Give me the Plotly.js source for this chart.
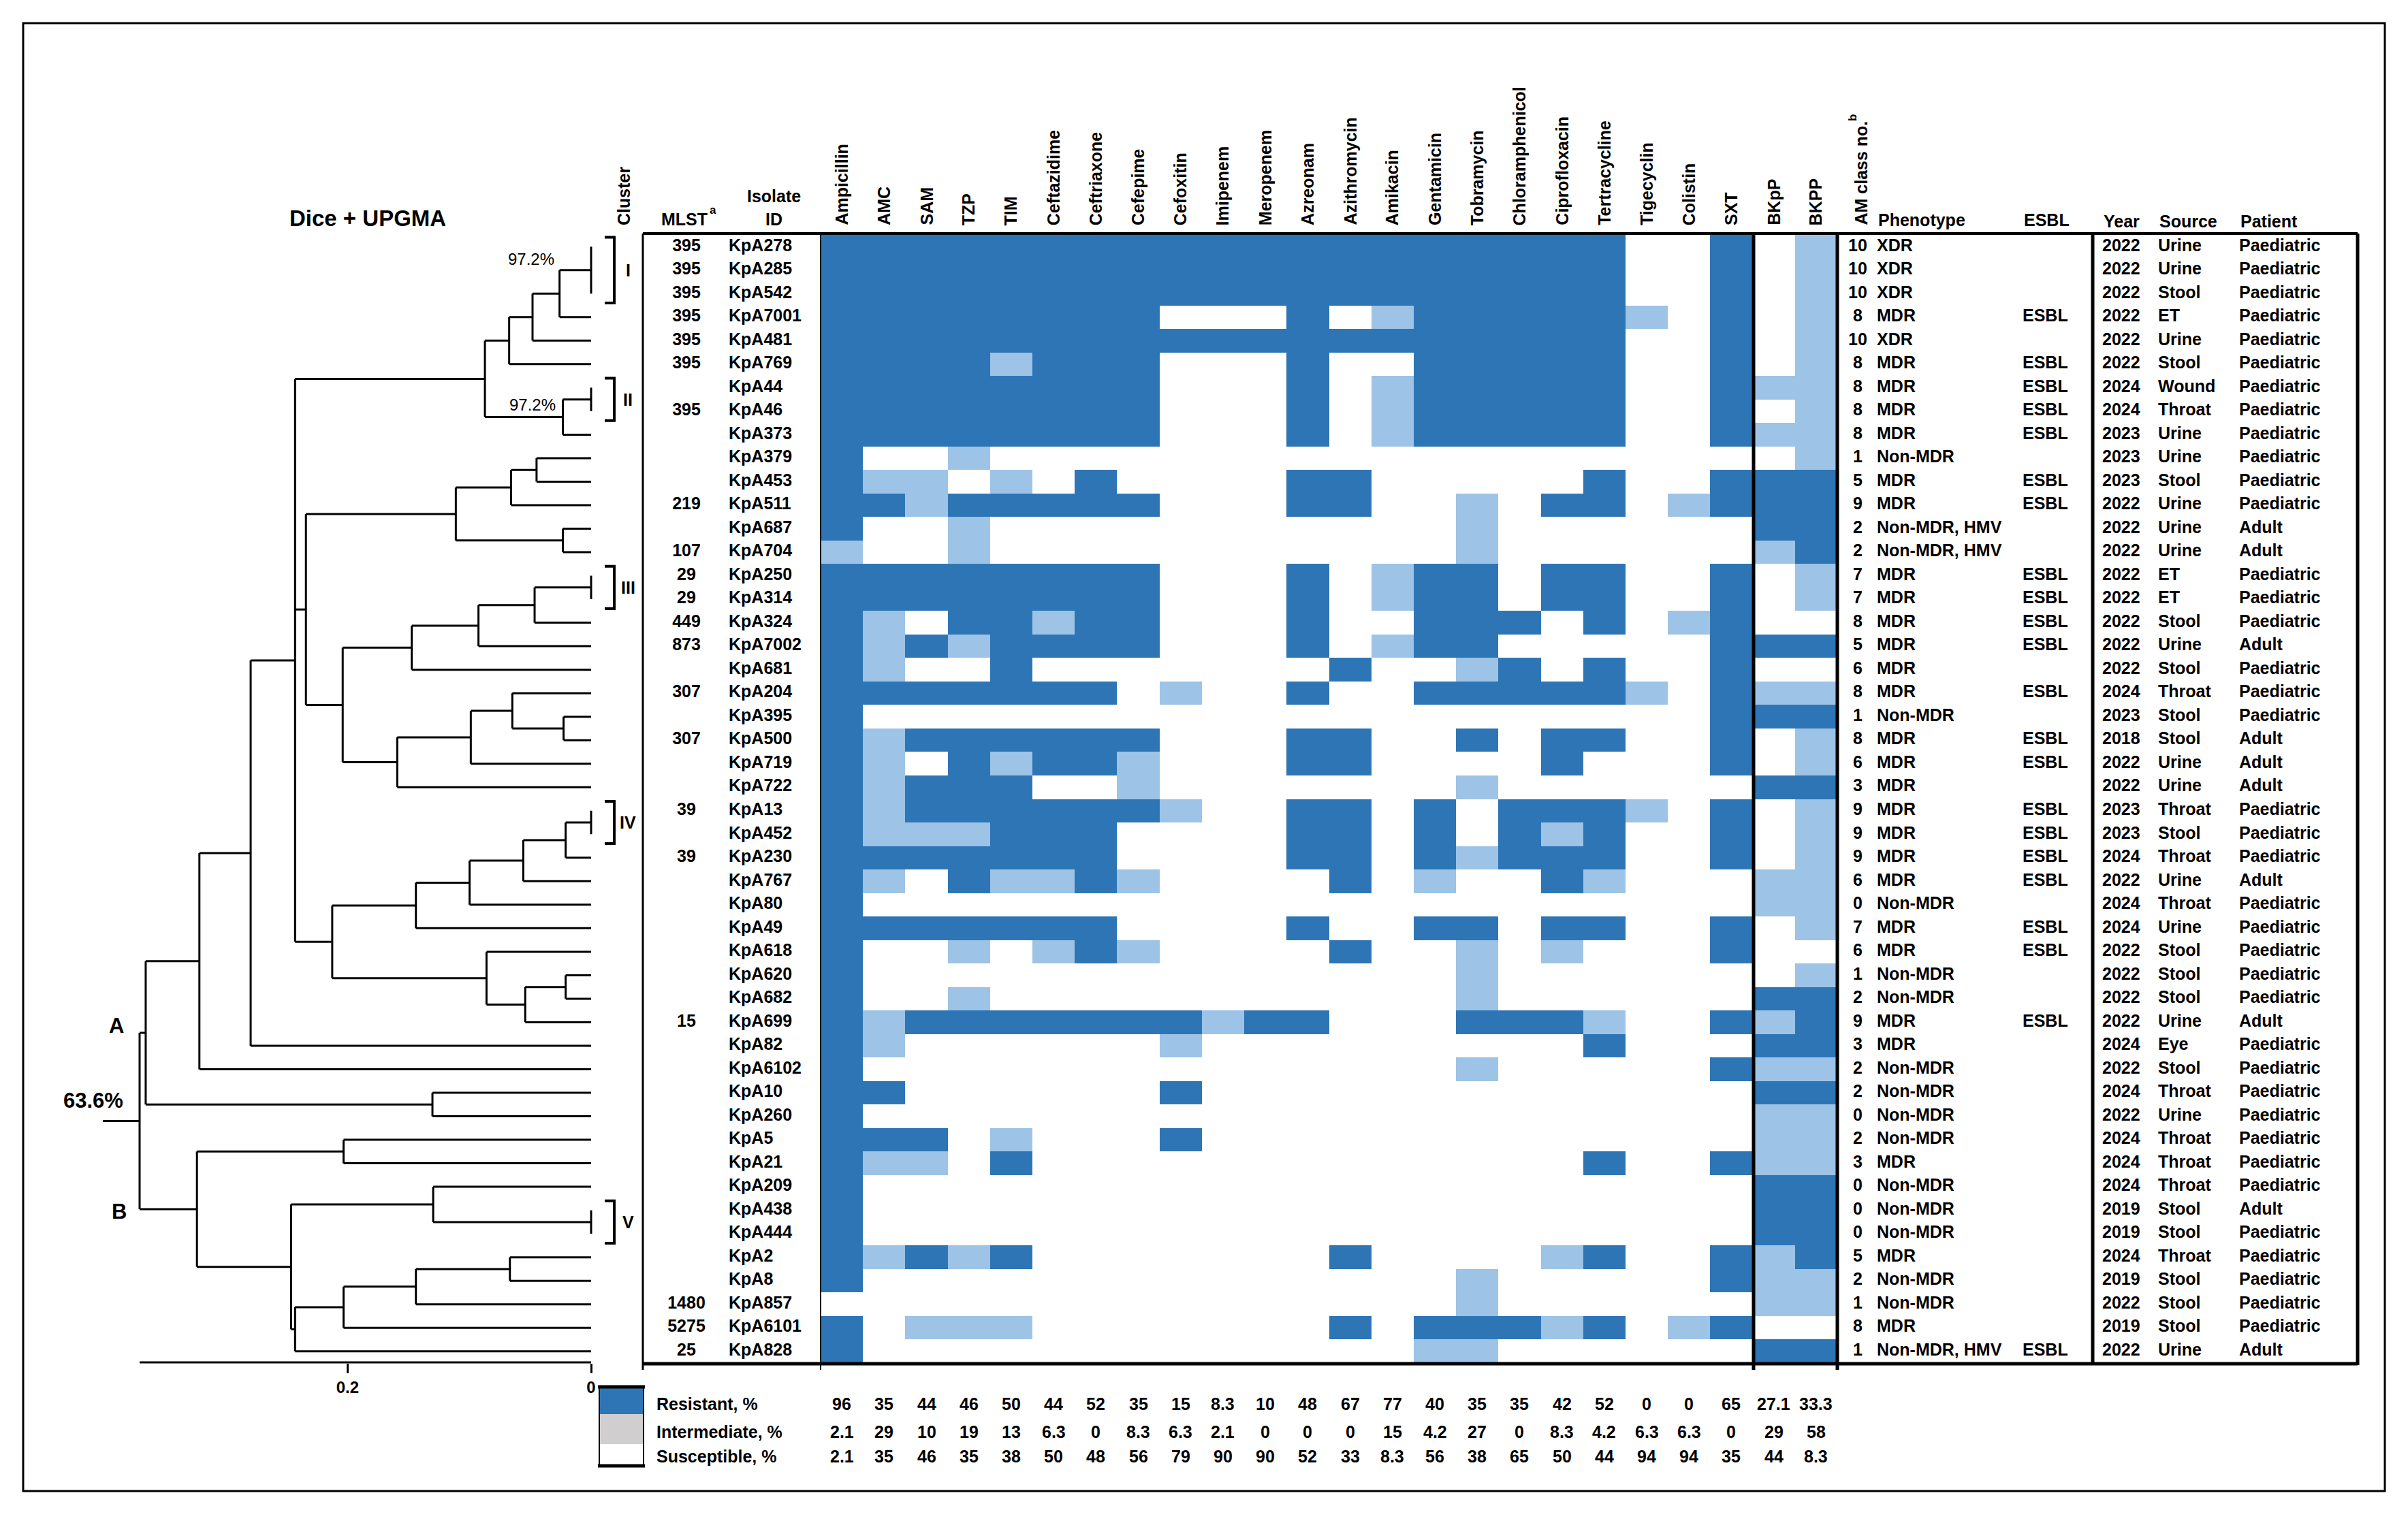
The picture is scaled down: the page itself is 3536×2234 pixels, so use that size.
<!DOCTYPE html>
<html><head><meta charset="utf-8">
<script src="https://cdn.plot.ly/plotly-3.0.1.min.js"></script>
<style>html,body{margin:0;padding:0;background:#fff}</style>
</head><body>
<div id="chart" style="width:3536px;height:2234px"></div>
<script>
// ---------------- DATA ----------------
const antibiotics = ['Ampicillin','AMC','SAM','TZP','TIM','Ceftazidime','Ceftriaxone','Cefepime','Cefoxitin','Imipenem','Meropenem','Azreonam','Azithromycin','Amikacin','Gentamicin','Tobramycin','Chloramphenicol','Ciprofloxacin','Tertracycline','Tigecyclin','Colistin','SXT','BKpP','BKPP'];

const isolates = ['KpA278','KpA285','KpA542','KpA7001','KpA481','KpA769','KpA44','KpA46','KpA373','KpA379',
  'KpA453','KpA511','KpA687','KpA704','KpA250','KpA314','KpA324','KpA7002','KpA681','KpA204',
  'KpA395','KpA500','KpA719','KpA722','KpA13','KpA452','KpA230','KpA767','KpA80','KpA49',
  'KpA618','KpA620','KpA682','KpA699','KpA82','KpA6102','KpA10','KpA260','KpA5','KpA21',
  'KpA209','KpA438','KpA444','KpA2','KpA8','KpA857','KpA6101','KpA828'];

const mlst = ['395','395','395','395','395','395','','395','','',
  '','219','','107','29','29','449','873','','307',
  '','307','','','39','','39','','','',
  '','','','15','','','','','','',
  '','','','','','1480','5275','25'];

// R = resistant, I = intermediate, S = susceptible (24 columns, grouped by 4)
const profiles = [
  'RRRR RRRR RRRR RRRR RRRS SRSI',
  'RRRR RRRR RRRR RRRR RRRS SRSI',
  'RRRR RRRR RRRR RRRR RRRS SRSI',
  'RRRR RRRR SSSR SIRR RRRI SRSI',
  'RRRR RRRR RRRR RRRR RRRS SRSI',
  'RRRR IRRR SSSR SSRR RRRS SRSI',
  'RRRR RRRR SSSR SIRR RRRS SRII',
  'RRRR RRRR SSSR SIRR RRRS SRSI',
  'RRRR RRRR SSSR SIRR RRRS SRII',
  'RSSI SSSS SSSS SSSS SSSS SSSI',
  'RIIS ISRS SSSR RSSS SSRS SRRR',
  'RRIR RRRR SSSR RSSI SRRS IRRR',
  'RSSI SSSS SSSS SSSI SSSS SSRR',
  'ISSI SSSS SSSS SSSI SSSS SSIR',
  'RRRR RRRR SSSR SIRR SRRS SRSI',
  'RRRR RRRR SSSR SIRR SRRS SRSI',
  'RISR RIRR SSSR SSRR RSRS IRSS',
  'RIRI RRRR SSSR SIRR SSSS SRRR',
  'RISS RSSS SSSS RSSI RSRS SRSS',
  'RRRR RRRS ISSR SSRR RRRI SRII',
  'RSSS SSSS SSSS SSSS SSSS SRRR',
  'RIRR RRRR SSSR RSSR SRRS SRSI',
  'RISR IRRI SSSR RSSS SRSS SRSI',
  'RIRR RSSI SSSS SSSI SSSS SSRR',
  'RIRR RRRR ISSR RSRS RRRI SRSI',
  'RIII RRRS SSSR RSRS RIRS SRSI',
  'RRRR RRRS SSSR RSRI RRRS SRSI',
  'RISR IIRI SSSS RSIS SRIS SSII',
  'RSSS SSSS SSSS SSSS SSSS SSII',
  'RRRR RRRS SSSR SSRR SRRS SRSI',
  'RSSI SIRI SSSS RSSI SISS SRSS',
  'RSSS SSSS SSSS SSSI SSSS SSSI',
  'RSSI SSSS SSSS SSSI SSSS SSRR',
  'RIRR RRRR RIRR SSSR RRIS SRIR',
  'RISS SSSS ISSS SSSS SSRS SSRR',
  'RSSS SSSS SSSS SSSI SSSS SRII',
  'RRSS SSSS RSSS SSSS SSSS SSRR',
  'RSSS SSSS SSSS SSSS SSSS SSII',
  'RRRS ISSS RSSS SSSS SSSS SSII',
  'RIIS RSSS SSSS SSSS SSRS SRII',
  'RSSS SSSS SSSS SSSS SSSS SSRR',
  'RSSS SSSS SSSS SSSS SSSS SSRR',
  'RSSS SSSS SSSS SSSS SSSS SSRR',
  'RIRI RSSS SSSS RSSS SIRS SRIR',
  'RSSS SSSS SSSS SSSI SSSS SRII',
  'SSSS SSSS SSSS SSSI SSSS SSII',
  'RSII ISSS SSSS RSRR RIRS IRSS',
  'RSSS SSSS SSSS SSII SSSS SSRR'
];

const amClass = [10,10,10,8,10,8,8,8,8,1, 5,9,2,2,7,7,8,5,6,8, 1,8,6,3,9,9,9,6,0,7, 6,1,2,9,3,2,2,0,2,3, 0,0,0,5,2,1,8,1];

const phenotype = ['XDR','XDR','XDR','MDR','XDR','MDR','MDR','MDR','MDR','Non-MDR',
  'MDR','MDR','Non-MDR, HMV','Non-MDR, HMV','MDR','MDR','MDR','MDR','MDR','MDR',
  'Non-MDR','MDR','MDR','MDR','MDR','MDR','MDR','MDR','Non-MDR','MDR',
  'MDR','Non-MDR','Non-MDR','MDR','MDR','Non-MDR','Non-MDR','Non-MDR','Non-MDR','MDR',
  'Non-MDR','Non-MDR','Non-MDR','MDR','Non-MDR','Non-MDR','MDR','Non-MDR, HMV'];

const esbl = ['','','','ESBL','','ESBL','ESBL','ESBL','ESBL','',
  'ESBL','ESBL','','','ESBL','ESBL','ESBL','ESBL','','ESBL',
  '','ESBL','ESBL','','ESBL','ESBL','ESBL','ESBL','','ESBL',
  'ESBL','','','ESBL','','','','','','',
  '','','','','','','','ESBL'];

const years = [2022,2022,2022,2022,2022,2022,2024,2024,2023,2023,
  2023,2022,2022,2022,2022,2022,2022,2022,2022,2024,
  2023,2018,2022,2022,2023,2023,2024,2022,2024,2024,
  2022,2022,2022,2022,2024,2022,2024,2022,2024,2024,
  2024,2019,2019,2024,2019,2022,2019,2022];

const sources = ['Urine','Urine','Stool','ET','Urine','Stool','Wound','Throat','Urine','Urine',
  'Stool','Urine','Urine','Urine','ET','ET','Stool','Urine','Stool','Throat',
  'Stool','Stool','Urine','Urine','Throat','Stool','Throat','Urine','Throat','Urine',
  'Stool','Stool','Stool','Urine','Eye','Stool','Throat','Urine','Throat','Throat',
  'Throat','Stool','Stool','Throat','Stool','Stool','Stool','Urine'];

const patients = ['Paediatric','Paediatric','Paediatric','Paediatric','Paediatric','Paediatric','Paediatric','Paediatric','Paediatric','Paediatric',
  'Paediatric','Paediatric','Adult','Adult','Paediatric','Paediatric','Paediatric','Adult','Paediatric','Paediatric',
  'Paediatric','Adult','Adult','Adult','Paediatric','Paediatric','Paediatric','Adult','Paediatric','Paediatric',
  'Paediatric','Paediatric','Paediatric','Adult','Paediatric','Paediatric','Paediatric','Paediatric','Paediatric','Paediatric',
  'Paediatric','Adult','Paediatric','Paediatric','Paediatric','Paediatric','Paediatric','Adult'];

const resistantPct    = ['96','35','44','46','50','44','52','35','15','8.3','10','48','67','77','40','35','35','42','52','0','0','65','27.1','33.3'];
const intermediatePct = ['2.1','29','10','19','13','6.3','0','8.3','6.3','2.1','0','0','0','15','4.2','27','0','8.3','4.2','6.3','6.3','0','29','58'];
const susceptiblePct  = ['2.1','35','46','35','38','50','48','56','79','90','90','52','33','8.3','56','38','65','50','44','94','94','35','44','8.3'];
const statLabels = ['Resistant, %','Intermediate, %','Susceptible, %'];

const clusterLabels = ['I','II','III','IV','V'];
const clusterStart  = [1,7,15,25,42];
const clusterEnd    = [3,8,16,26,43];
const groupLabels   = ['A','B'];

// Dice + UPGMA dendrogram: [distance, child, child, ...]; leaves = row numbers
const dendrogram =
[0.3708,
  [0.3658,
    [0.3217,
      [0.2796,
        [0.2431,
          [0.0872,
            [0.0673, [0.0481, [0.0259, [0, 1, 2, 3], 4], 5], 6],
            [0.0232, [0, 7, 8], 9]],
          [0.2342,
            [0.1111, [0.0657, [0.0448, 10, 11], 12], [0.0232, 13, 14]],
            [0.2040,
              [0.1473, [0.0925, [0.0464, [0, 15, 16], 17], 18], 19],
              [0.1592, [0.0988, [0.0647, 20, [0.0226, 21, 22]], 23], 24]]],
          [0.2126,
            [0.1439, [0.0998, [0.0557, [0.0209, [0, 25, 26], 27], 28], 29], 30],
            [0.0859, 31, [0.0541, [0.0209, 32, 33], 34]]]],
        35],
      36],
    [0.1303, 37, 38]],
  [0.3237,
    [0.2033, 39, 40],
    [0.2464,
      [0.1297, 41, [0, 42, 43]],
      [0.2431, [0.2033, [0.1439, [0.0667, 44, 45], 46], 47], 48]]]];
const rootStem = 0.401;
const rootSimilarity = '63.6%';

// ---------------- BUILD ----------------
const W = 3536, H = 2234;
const ROW_PX = (2002 - 345) / 48;
const px = v => v / W, py = v => 1 - v / H;
const FONT = 'Liberation Sans, Arial, Helvetica, sans-serif';
const DARK = '#2E75B6', LIGHT = '#9DC3E6', GREY = '#D0CECE';
const rows = isolates.map((_, i) => i + 1);
const colIdx = antibiotics.map((_, i) => i);
const codeValue = {S: 0, I: 1, R: 2};
const z = profiles.map(p => p.replace(/ /g, '').split('').map(c => codeValue[c]));

// dendrogram segments
const segX = [], segY = [];
function drawNode(node) {
  if (typeof node === 'number') return {y: node, h: 0, kids: []};
  const h = node[0];
  const kids = node.slice(1).map(drawNode);
  const ys = kids.map(k => k.y);
  const y0 = Math.min(...ys), y1 = Math.max(...ys);
  segX.push(h, h, null); segY.push(y0, y1, null);
  kids.forEach(k => { if (k.h < h) { segX.push(k.h, h, null); segY.push(k.y, k.y, null); } });
  return {y: (y0 + y1) / 2, h: h, kids: kids};
}
const rootInfo = drawNode(dendrogram);
segX.push(rootInfo.h, rootStem, null); segY.push(rootInfo.y, rootInfo.y, null);

const traces = [];
traces.push({type: 'scatter', mode: 'lines', x: segX, y: segY, xaxis: 'x', yaxis: 'y',
  line: {color: '#000', width: 3}, hoverinfo: 'skip', connectgaps: false});

traces.push({type: 'heatmap', x: colIdx, y: rows, z: z, xaxis: 'x2', yaxis: 'y',
  zmin: 0, zmax: 2, showscale: false, hoverinfo: 'skip', xgap: 0, ygap: 0,
  colorscale: [[0, '#FFFFFF'], [0.3333, '#FFFFFF'], [0.3334, LIGHT], [0.6666, LIGHT], [0.6667, DARK], [1, DARK]]});

function textCol(xpos, arr, pos) {
  const keep = arr.map((v, i) => i).filter(i => String(arr[i]) !== '');
  return {type: 'scatter', mode: 'text', x: keep.map(() => xpos), y: keep.map(i => rows[i]),
    text: keep.map(i => String(arr[i])),
    textposition: pos, xaxis: 'x3', yaxis: 'y', hoverinfo: 'skip', cliponaxis: false,
    textfont: {family: FONT, size: 25, color: '#000', weight: 700}};
}
traces.push(textCol(1008, mlst, 'middle center'));
traces.push(textCol(1070, isolates, 'middle right'));
traces.push(textCol(2728, amClass, 'middle center'));
traces.push(textCol(2756, phenotype, 'middle right'));
traces.push(textCol(2970, esbl, 'middle right'));
traces.push(textCol(3087, years, 'middle right'));
traces.push(textCol(3169, sources, 'middle right'));
traces.push(textCol(3288, patients, 'middle right'));

// ---------------- ANNOTATIONS ----------------
const ann = [];
function A(o) {
  ann.push(Object.assign({showarrow: false, xref: 'paper', yref: 'paper',
    font: {family: FONT, size: 25, color: '#000', weight: 700}}, o));
}
const supFont = {family: FONT, size: 17, color: '#000', weight: 700};
antibiotics.forEach((t, i) => A({xref: 'x2', x: i, y: py(333), text: t, textangle: -90, xanchor: 'center', yanchor: 'bottom'}));
A({x: px(916), y: py(333), text: 'Cluster', textangle: -90, xanchor: 'center', yanchor: 'bottom'});
A({x: px(1041), y: py(322), text: 'MLST', xanchor: 'right', yanchor: 'middle'});
A({x: px(1040), y: py(308), text: 'a', xanchor: 'left', yanchor: 'middle', font: supFont});
A({x: px(1136), y: py(288), text: 'Isolate', xanchor: 'center', yanchor: 'middle'});
A({x: px(1136), y: py(322), text: 'ID', xanchor: 'center', yanchor: 'middle'});
A({x: px(2733), y: py(333), text: 'AM class no.', textangle: -90, xanchor: 'center', yanchor: 'bottom'});
A({x: px(2721), y: py(180), text: 'b', textangle: -90, xanchor: 'center', yanchor: 'bottom', font: supFont});
A({x: px(2756), y: py(323), text: 'Phenotype', xanchor: 'left', yanchor: 'middle'});
A({x: px(2970), y: py(323), text: 'ESBL', xanchor: 'left', yanchor: 'middle'});
A({x: px(3087), y: py(325), text: 'Year', xanchor: 'left', yanchor: 'middle'});
A({x: px(3169), y: py(325), text: 'Source', xanchor: 'left', yanchor: 'middle'});
A({x: px(3288), y: py(325), text: 'Patient', xanchor: 'left', yanchor: 'middle'});
A({x: px(540), y: py(321), text: 'Dice + UPGMA', xanchor: 'center', yanchor: 'middle', font: {family: FONT, size: 33, color: '#000', weight: 700}});
A({x: px(780), y: py(381), text: '97.2%', xanchor: 'center', yanchor: 'middle', font: {family: FONT, size: 24, color: '#000'}});
A({x: px(782), y: py(594), text: '97.2%', xanchor: 'center', yanchor: 'middle', font: {family: FONT, size: 24, color: '#000'}});
// A / B group labels beside the two main branches, similarity above root stem
const bigFont = {family: FONT, size: 31, color: '#000', weight: 700};
A({x: px(171), yref: 'y', y: rootInfo.kids[0].y - 10 / ROW_PX, text: groupLabels[0], xanchor: 'center', yanchor: 'middle', font: bigFont});
A({x: px(175), yref: 'y', y: rootInfo.kids[1].y + 3 / ROW_PX, text: groupLabels[1], xanchor: 'center', yanchor: 'middle', font: bigFont});
A({x: px(137), yref: 'y', y: rootInfo.y - 30 / ROW_PX, text: rootSimilarity, xanchor: 'center', yanchor: 'middle', font: bigFont});
clusterLabels.forEach((t, i) => A({x: px(922), yref: 'y', y: (clusterStart[i] + clusterEnd[i]) / 2, text: t, xanchor: 'center', yanchor: 'middle'}));
const statRows = [resistantPct, intermediatePct, susceptiblePct];
const statY = [2062, 2103, 2139];
statLabels.forEach((t, r) => {
  A({x: px(962), y: py(statY[r]), text: t, xanchor: 'left', yanchor: 'middle'});
  statRows[r].forEach((v, i) => A({xref: 'x2', x: i, y: py(statY[r]), text: v, xanchor: 'center', yanchor: 'middle'}));
});

// ---------------- SHAPES ----------------
const shapes = [];
function L(x0, y0, x1, y1, w) {
  shapes.push({type: 'line', xref: 'paper', yref: 'paper', x0: px(x0), y0: py(y0), x1: px(x1), y1: py(y1), line: {color: '#000', width: w}});
}
shapes.push({type: 'rect', xref: 'paper', yref: 'paper', x0: px(34), y0: py(2190), x1: px(3502), y1: py(34), line: {color: '#000', width: 3}});
L(944, 343, 3462, 343, 4);
L(944, 2003, 3462, 2003, 5);
L(944, 343, 944, 2012, 3);
L(1205, 343, 1205, 2012, 2);
L(2575, 343, 2575, 2012, 5);
L(2698, 343, 2698, 2012, 5);
L(3073, 343, 3073, 2005, 5);
L(3462, 343, 3462, 2005, 5);
// dendrogram baseline
shapes.push({type: 'line', xref: 'x', yref: 'paper', x0: rootInfo.h, x1: 0, y0: py(2001), y1: py(2001), line: {color: '#000', width: 3}});
// cluster brackets
clusterLabels.forEach((t, i) => {
  const a = clusterStart[i] - 0.4, b = clusterEnd[i] + 0.4;
  shapes.push({type: 'path', xref: 'paper', yref: 'y', line: {color: '#000', width: 4},
    path: `M ${px(888)},${a} L ${px(902)},${a} L ${px(902)},${b} L ${px(888)},${b}`});
});
// legend box
const boxFill = [[2038, 2077, DARK], [2077, 2121, GREY], [2121, 2152, '#FFFFFF']];
boxFill.forEach(b => shapes.push({type: 'rect', xref: 'paper', yref: 'paper', x0: px(880), x1: px(945), y0: py(b[1]), y1: py(b[0]), fillcolor: b[2], line: {width: 0}}));
L(880, 2037, 880, 2153, 2);
L(945, 2037, 945, 2153, 2);
L(878, 2037, 947, 2037, 5);
L(878, 2153, 947, 2153, 5);

// ---------------- LAYOUT ----------------
const layout = {
  width: W, height: H, margin: {l: 0, r: 0, t: 0, b: 0},
  paper_bgcolor: '#FFFFFF', plot_bgcolor: 'rgba(0,0,0,0)', showlegend: false,
  font: {family: FONT, size: 25, color: '#000'},
  xaxis: {domain: [px(140), px(872)], range: [rootInfo.h + 65 / 1788, -4 / 1788], anchor: 'y',
    showgrid: false, zeroline: false, showline: false, tickvals: [0.2, 0], ticktext: ['0.2', '0'],
    ticks: 'outside', ticklen: 14, tickwidth: 3, tickcolor: '#000',
    tickfont: {family: FONT, size: 24, color: '#000', weight: 700}},
  xaxis2: {domain: [px(1205), px(2698)], range: [-0.5, 23.5], anchor: 'y', visible: false},
  xaxis3: {domain: [0, 1], range: [0, W], anchor: 'y', visible: false},
  yaxis: {domain: [py(2002), py(345)], range: [48.5, 0.5], visible: false},
  annotations: ann, shapes: shapes
};
Plotly.newPlot('chart', traces, layout, {staticPlot: true, displayModeBar: false});
</script>
</body></html>
